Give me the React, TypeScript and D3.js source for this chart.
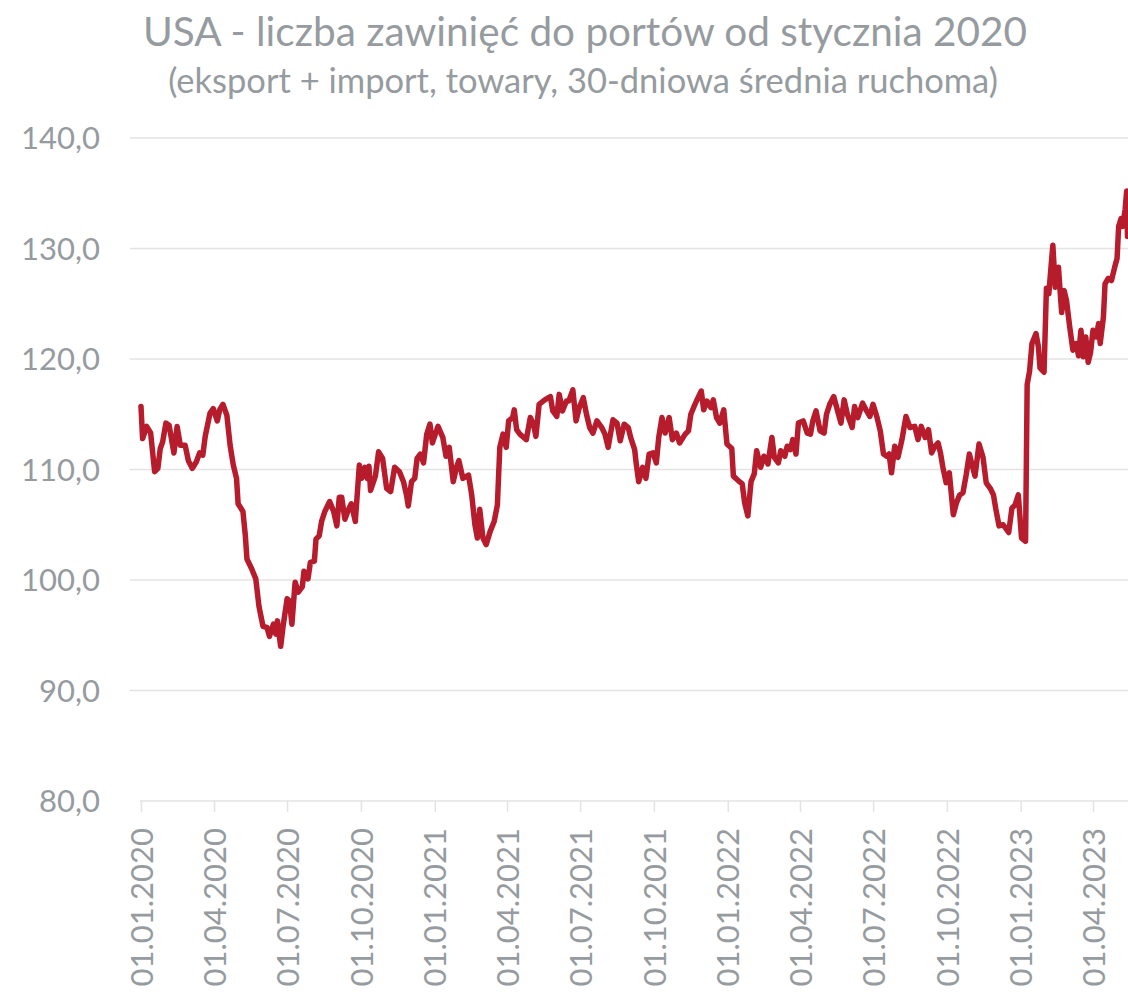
import React, { useRef, useEffect } from "react";
import * as d3 from "d3";

// days counted from 01.01.2020
const startDate = new Date(2020, 0, 1);
const dayOffsets = [
  0, 2, 7, 12, 17, 21, 24, 27, 31, 35, 41, 45, 49, 55, 59, 64, 69, 73, 77, 80,
  86, 90, 95, 98, 102, 107, 111, 115, 119, 121, 127, 130, 132, 138, 143, 147, 152, 157, 160, 165,
  168, 170, 174, 177, 182, 185, 188, 192, 196, 201, 203, 208, 211, 216, 218, 222, 225, 229, 235, 240,
  244, 247, 250, 254, 258, 262, 267, 272, 275, 279, 282, 284, 286, 292, 296, 301, 306, 311, 316, 322,
  327, 331, 333, 337, 341, 344, 348, 352, 356, 360, 363, 370, 376, 380, 384, 389, 393, 396, 401, 408,
  412, 416, 419, 422, 426, 430, 435, 440, 444, 447, 451, 455, 458, 463, 465, 468, 472, 480, 485, 489,
  492, 496, 503, 510, 513, 518, 521, 525, 530, 533, 538, 542, 546, 551, 555, 559, 563, 568, 574, 578,
  582, 588, 593, 597, 602, 607, 610, 615, 617, 620, 625, 629, 633, 638, 642, 645, 649, 653, 658, 662,
  667, 671, 678, 682, 685, 689, 692, 698, 701, 705, 710, 713, 717, 721, 726, 730, 736, 738, 744, 749,
  752, 756, 760, 764, 767, 772, 776, 781, 786, 789, 794, 797, 802, 805, 809, 812, 816, 819, 825, 830,
  834, 837, 841, 846, 851, 854, 858, 863, 869, 872, 876, 880, 886, 889, 893, 899, 904, 908, 912, 917,
  921, 925, 929, 932, 935, 939, 943, 948, 953, 958, 964, 968, 972, 977, 981, 985, 989, 993, 996, 999,
  1003, 1007, 1012, 1016, 1020, 1024, 1028, 1032, 1035, 1039, 1044, 1049, 1053, 1058, 1062, 1065, 1069, 1074, 1078, 1081,
  1085, 1089, 1093, 1097, 1102, 1104, 1107, 1110, 1115, 1118, 1120, 1125, 1128, 1131, 1133, 1136, 1139, 1143, 1145, 1147,
  1150, 1153, 1157, 1161, 1165, 1168, 1171, 1174, 1177, 1180, 1183, 1186, 1190, 1193, 1195, 1199, 1201, 1205, 1209, 1213,
  1216, 1218, 1221, 1223, 1226, 1228, 1229,
];
const portCalls = [
  115.7, 112.8, 113.9, 113.3, 109.8, 110.1, 111.9, 112.5, 114.2, 114.0, 111.5, 113.9, 112.2, 112.2, 110.8, 110.1, 110.7, 111.5, 111.3, 113.0,
  115.1, 115.5, 114.4, 115.4, 115.9, 114.9, 112.2, 110.4, 109.2, 106.9, 106.2, 104.0, 101.9, 101.0, 100.1, 97.6, 95.8, 95.7, 94.9, 96.0,
  95.1, 96.3, 94.0, 95.8, 98.3, 98.1, 96.0, 99.8, 98.9, 99.4, 100.8, 100.1, 101.6, 101.7, 103.7, 104.0, 105.3, 106.2, 107.1, 106.2,
  104.9, 107.5, 107.5, 105.5, 106.3, 106.9, 105.3, 110.4, 109.2, 110.2, 109.2, 110.3, 108.1, 109.4, 111.6, 111.0, 108.3, 108.0, 110.2, 109.8,
  108.9, 107.6, 106.7, 108.9, 109.2, 111.0, 111.4, 110.6, 113.2, 114.1, 112.4, 113.9, 112.9, 111.2, 112.0, 108.9, 110.2, 110.8, 109.2, 109.5,
  107.7, 105.0, 103.8, 106.4, 103.8, 103.2, 104.4, 105.3, 106.8, 112.0, 113.2, 112.0, 114.4, 114.7, 115.4, 113.6, 113.2, 112.7, 114.7, 114.1,
  113.0, 115.9, 116.3, 116.6, 115.3, 114.8, 116.8, 115.3, 116.2, 116.2, 117.2, 114.4, 115.6, 116.5, 115.0, 113.8, 113.3, 114.4, 113.8, 113.2,
  112.0, 114.5, 114.2, 112.6, 114.1, 113.8, 112.9, 111.8, 110.5, 108.9, 110.2, 109.2, 111.4, 111.5, 110.6, 112.9, 114.7, 113.3, 114.7, 112.7,
  113.3, 112.4, 113.2, 113.5, 115.0, 115.7, 116.2, 117.1, 115.4, 116.2, 115.6, 116.3, 114.7, 114.2, 115.4, 112.3, 111.9, 109.4, 109.0, 108.7,
  107.0, 105.8, 108.9, 109.6, 111.7, 110.2, 111.2, 110.5, 112.9, 111.1, 110.6, 111.7, 111.2, 112.1, 111.8, 112.7, 111.4, 114.2, 114.4, 113.3,
  113.2, 114.4, 115.3, 113.5, 113.3, 115.0, 115.9, 116.6, 115.0, 114.2, 116.3, 115.0, 113.8, 115.7, 114.7, 116.0, 115.3, 114.8, 115.9, 114.7,
  113.5, 111.4, 111.2, 111.4, 109.7, 112.1, 111.1, 112.7, 114.8, 113.8, 113.9, 112.7, 113.9, 112.9, 113.6, 111.5, 112.1, 112.4, 111.5, 110.2,
  108.8, 109.7, 105.9, 107.0, 107.7, 107.9, 109.5, 111.4, 110.5, 109.4, 112.3, 111.1, 108.8, 108.3, 107.7, 106.4, 104.9, 105.0, 104.6, 104.3,
  106.5, 106.8, 107.7, 103.8, 103.5, 117.7, 118.9, 121.4, 122.3, 121.1, 119.2, 118.8, 126.4, 125.9, 127.7, 130.3, 126.5, 128.3, 126.2, 124.2,
  126.2, 125.3, 122.9, 120.8, 121.4, 120.3, 122.6, 120.2, 122.0, 119.7, 120.6, 122.6, 122.0, 123.2, 121.4, 123.8, 126.8, 127.3, 127.1, 128.3,
  129.1, 132.0, 132.7, 132.0, 133.5, 135.2, 131.1,
];
const yTicks = [80, 90, 100, 110, 120, 130, 140];
const titleText = "USA - liczba zawinięć do portów od stycznia 2020";
const subtitleText = "(eksport + import, towary, 30-dniowa średnia ruchoma)";

const grey = "#959b9e";
const lineColour = "#b71c2c";
const font = "Lato, 'Open Sans', sans-serif";

const App = () => {
  const svgRef = useRef<SVGSVGElement>(null);

  useEffect(() => {
    const svg = d3.select(svgRef.current);
    svg.selectAll("*").remove();

    const data = dayOffsets.map((d, i) => ({
      date: d3.timeDay.offset(startDate, d),
      value: portCalls[i],
    }));

    const endDate = data[data.length - 1].date;
    const xScale = d3
      .scaleTime()
      .domain([startDate, endDate])
      .range([141, 1127.5]);
    const yScale = d3.scaleLinear().domain([80, 140]).range([801, 138]);

    // title
    svg
      .append("text")
      .attr("x", 585)
      .attr("y", 46)
      .attr("text-anchor", "middle")
      .attr("font-family", font)
      .attr("font-size", 40.5)
      .attr("fill", grey)
      .text(titleText);
    svg
      .append("text")
      .attr("x", 583)
      .attr("y", 93)
      .attr("text-anchor", "middle")
      .attr("font-family", font)
      .attr("font-size", 34.5)
      .attr("fill", grey)
      .text(subtitleText);

    // horizontal gridlines
    svg
      .append("g")
      .selectAll("line")
      .data(yTicks.filter((t) => t > 80))
      .enter()
      .append("line")
      .attr("x1", 130)
      .attr("x2", 1128)
      .attr("y1", (d) => yScale(d))
      .attr("y2", (d) => yScale(d))
      .attr("stroke", "#e3e3e3")
      .attr("stroke-width", 1.5);

    // y labels
    const fmt = d3.format(".1f");
    svg
      .append("g")
      .selectAll("text")
      .data(yTicks)
      .enter()
      .append("text")
      .attr("x", 100)
      .attr("y", (d) => yScale(d))
      .attr("dy", "0.36em")
      .attr("text-anchor", "end")
      .attr("font-family", font)
      .attr("font-size", 31)
      .attr("fill", grey)
      .text((d) => fmt(d).replace(".", ","));

    // x axis
    const xAxis = d3
      .axisBottom(xScale)
      .ticks(d3.timeMonth.every(3))
      .tickSize(11)
      .tickSizeOuter(0)
      .tickFormat((d) => d3.timeFormat("%d.%m.%Y")(d as Date));
    const gx = svg
      .append("g")
      .attr("transform", `translate(0,${yScale(80)})`)
      .call(xAxis);
    gx.select(".domain")
      .attr("stroke", "#e3e3e3")
      .attr("stroke-width", 1.5)
      .attr("d", `M140,0H1128`);
    gx.selectAll(".tick line").attr("stroke", "#e3e3e3").attr("stroke-width", 1.5);
    gx.selectAll(".tick text")
      .attr("font-family", font)
      .attr("font-size", 31)
      .attr("fill", grey)
      .attr("text-anchor", "end")
      .attr("dy", "0.36em")
      .attr("x", -27)
      .attr("y", 0)
      .attr("transform", "rotate(-90)");

    // series
    const lineGenerator = d3
      .line<{ date: Date; value: number }>()
      .x((d) => xScale(d.date))
      .y((d) => yScale(d.value));
    svg
      .append("path")
      .datum(data)
      .attr("fill", "none")
      .attr("stroke", lineColour)
      .attr("stroke-width", 5.5)
      .attr("stroke-linejoin", "round")
      .attr("stroke-linecap", "round")
      .attr("d", lineGenerator);
  }, []);

  return (
    <svg
      ref={svgRef}
      width={1128}
      height={995}
      style={{ position: "absolute", left: 0, top: 0, background: "#fff" }}
    />
  );
};

export default App;
